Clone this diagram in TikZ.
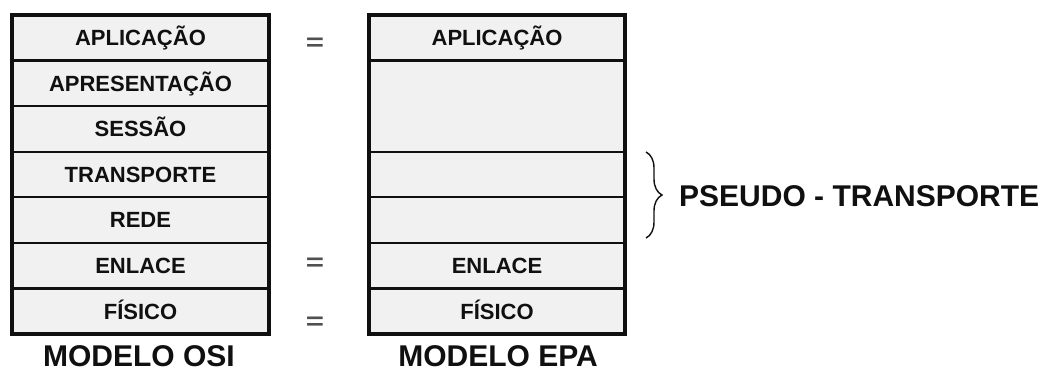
\documentclass[tikz,border=0pt]{standalone}
\usepackage{fontspec}
\setmainfont{Liberation Sans}
\usetikzlibrary{decorations.pathreplacing}
\definecolor{boxfill}{HTML}{F1F1F1}
\definecolor{ink}{HTML}{101010}
\definecolor{eqgray}{HTML}{505050}
\begin{document}
\begin{tikzpicture}[x=1pt,y=-1pt,
  layer/.style={draw=ink, line width=2.3pt, fill=boxfill, minimum height=45.57pt,
    inner sep=0pt, outer sep=0pt, anchor=north west, text=ink,
    font=\fontsize{22}{24}\selectfont\bfseries, text height=15.8pt, text depth=0pt},
  osi/.style={layer, minimum width=257pt},
  epa/.style={layer, minimum width=256pt},
  frame/.style={draw=ink, line width=3.2pt},
  eqsign/.style={text=eqgray, inner sep=0pt, font=\fontsize{24}{26}\selectfont\bfseries},
  bigtext/.style={text=ink, inner sep=0pt, font=\fontsize{30}{32}\selectfont\bfseries}
]
\useasboundingbox (0,0) rectangle (1044,372);
\fill[white] (0,0) rectangle (1044,372);
% OSI stack
\node[osi] (o1) at (12,15) {APLICAÇÃO};
\node[osi] (o2) at (o1.south west) {APRESENTAÇÃO};
\node[osi] (o3) at (o2.south west) {SESSÃO};
\node[osi] (o4) at (o3.south west) {TRANSPORTE};
\node[osi] (o5) at (o4.south west) {REDE};
\node[osi] (o6) at (o5.south west) {ENLACE};
\node[osi] (o7) at (o6.south west) {FÍSICO};
\draw[frame] (o1.north west) rectangle (o7.south east);
% EPA stack
\node[epa] (e1) at (369,15) {APLICAÇÃO};
\node[epa, minimum height=91.14pt] (e2) at (e1.south west) {};
\node[epa] (e3) at (e2.south west) {};
\node[epa] (e4) at (e3.south west) {};
\node[epa] (e5) at (e4.south west) {ENLACE};
\node[epa] (e6) at (e5.south west) {FÍSICO};
\draw[frame] (e1.north west) rectangle (e6.south east);
% equals signs
\node[eqsign] (q1) at (315,44) {\scalebox{1.3}[1]{=}};
\node[eqsign] (q2) at (315,264) {\scalebox{1.3}[1]{=}};
\node[eqsign] (q3) at (315,323) {\scalebox{1.3}[1]{=}};
% brace
\coordinate (bt) at (646,152);
\coordinate (bb) at (646,238);
\draw[draw=ink, line width=1.4pt, decorate, decoration={brace, amplitude=16pt}] (bt) -- (bb);
\node[bigtext, anchor=west] (pt) at (679,196) {PSEUDO - TRANSPORTE};
% captions
\node[bigtext, anchor=base] (cosi) at (139,366.5) {MODELO OSI};
\node[bigtext, anchor=base] (cepa) at (498,366) {MODELO EPA};
\end{tikzpicture}
\end{document}
